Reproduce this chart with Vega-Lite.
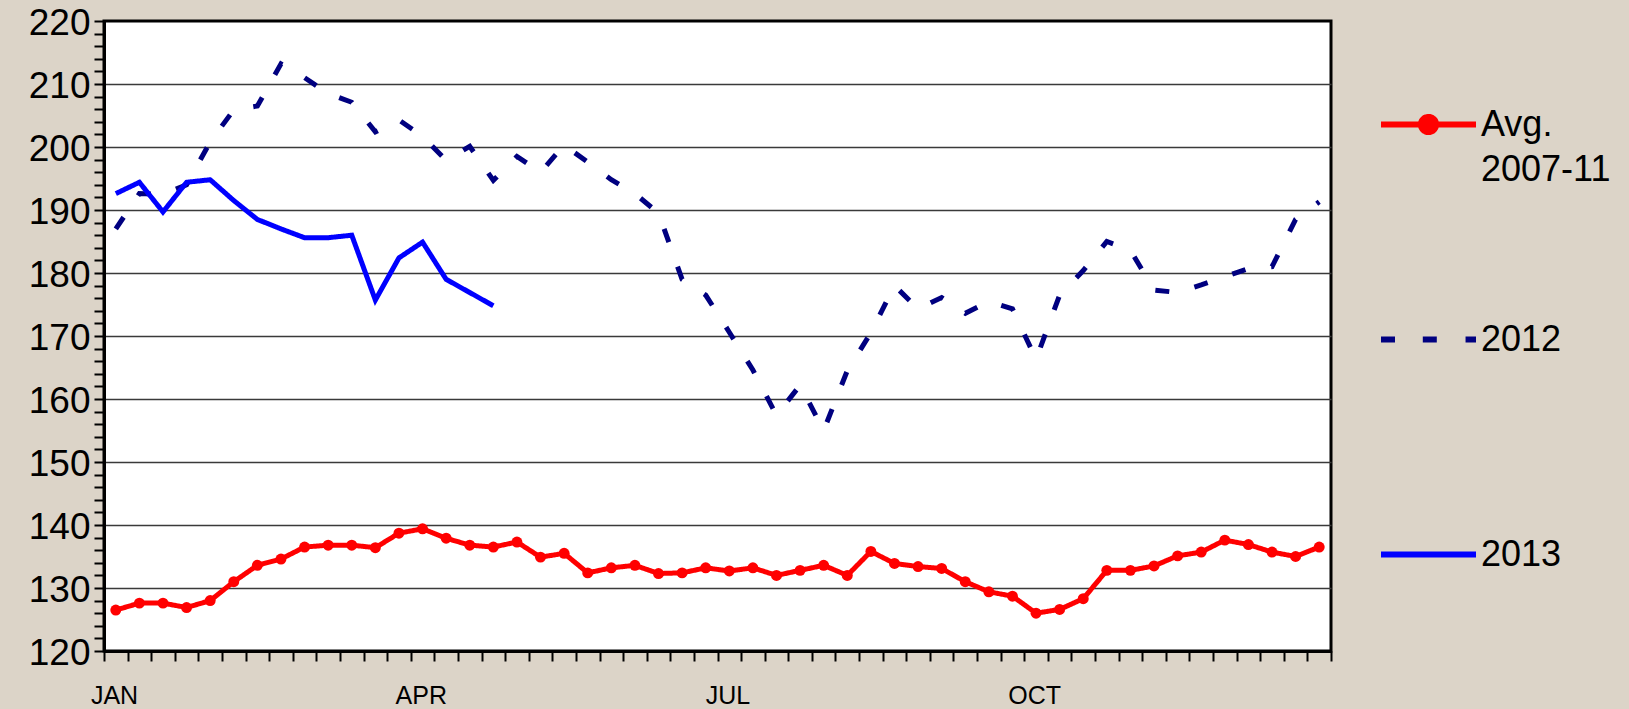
{
  "$schema": "https://vega.github.io/schema/vega-lite/v6.json",
  "width": 1227,
  "height": 630,
  "autosize": {"type": "none"},
  "padding": {"left": 104, "top": 21, "right": 298, "bottom": 58},
  "background": "#DCD4C8",
  "view": {"fill": "white", "stroke": "black", "strokeWidth": 3},
  "config": {"font": "Liberation Sans"},
  "data": {"values": [
    {"w":0,"s":"Avg. 2007-11","v":126.5},{"w":1,"s":"Avg. 2007-11","v":127.6},{"w":2,"s":"Avg. 2007-11","v":127.6},{"w":3,"s":"Avg. 2007-11","v":126.9},{"w":4,"s":"Avg. 2007-11","v":128.0},{"w":5,"s":"Avg. 2007-11","v":131.0},{"w":6,"s":"Avg. 2007-11","v":133.6},{"w":7,"s":"Avg. 2007-11","v":134.6},{"w":8,"s":"Avg. 2007-11","v":136.5},{"w":9,"s":"Avg. 2007-11","v":136.8},{"w":10,"s":"Avg. 2007-11","v":136.8},{"w":11,"s":"Avg. 2007-11","v":136.4},{"w":12,"s":"Avg. 2007-11","v":138.7},{"w":13,"s":"Avg. 2007-11","v":139.4},{"w":14,"s":"Avg. 2007-11","v":137.9},{"w":15,"s":"Avg. 2007-11","v":136.8},{"w":16,"s":"Avg. 2007-11","v":136.5},{"w":17,"s":"Avg. 2007-11","v":137.3},{"w":18,"s":"Avg. 2007-11","v":134.9},{"w":19,"s":"Avg. 2007-11","v":135.5},{"w":20,"s":"Avg. 2007-11","v":132.4},{"w":21,"s":"Avg. 2007-11","v":133.2},{"w":22,"s":"Avg. 2007-11","v":133.6},{"w":23,"s":"Avg. 2007-11","v":132.3},{"w":24,"s":"Avg. 2007-11","v":132.4},{"w":25,"s":"Avg. 2007-11","v":133.2},{"w":26,"s":"Avg. 2007-11","v":132.7},{"w":27,"s":"Avg. 2007-11","v":133.2},{"w":28,"s":"Avg. 2007-11","v":132.0},{"w":29,"s":"Avg. 2007-11","v":132.8},{"w":30,"s":"Avg. 2007-11","v":133.6},{"w":31,"s":"Avg. 2007-11","v":132.0},{"w":32,"s":"Avg. 2007-11","v":135.8},{"w":33,"s":"Avg. 2007-11","v":133.9},{"w":34,"s":"Avg. 2007-11","v":133.4},{"w":35,"s":"Avg. 2007-11","v":133.1},{"w":36,"s":"Avg. 2007-11","v":131.0},{"w":37,"s":"Avg. 2007-11","v":129.4},{"w":38,"s":"Avg. 2007-11","v":128.7},{"w":39,"s":"Avg. 2007-11","v":126.0},{"w":40,"s":"Avg. 2007-11","v":126.6},{"w":41,"s":"Avg. 2007-11","v":128.3},{"w":42,"s":"Avg. 2007-11","v":132.8},{"w":43,"s":"Avg. 2007-11","v":132.8},{"w":44,"s":"Avg. 2007-11","v":133.5},{"w":45,"s":"Avg. 2007-11","v":135.1},{"w":46,"s":"Avg. 2007-11","v":135.7},{"w":47,"s":"Avg. 2007-11","v":137.6},{"w":48,"s":"Avg. 2007-11","v":136.9},{"w":49,"s":"Avg. 2007-11","v":135.7},{"w":50,"s":"Avg. 2007-11","v":135.0},{"w":51,"s":"Avg. 2007-11","v":136.5},
    {"w":0,"s":"2012","v":187.0},{"w":1,"s":"2012","v":192.6},{"w":2,"s":"2012","v":192.5},{"w":3,"s":"2012","v":194.0},{"w":4,"s":"2012","v":200.8},{"w":5,"s":"2012","v":205.9},{"w":6,"s":"2012","v":206.5},{"w":7,"s":"2012","v":213.2},{"w":8,"s":"2012","v":211.0},{"w":9,"s":"2012","v":208.5},{"w":10,"s":"2012","v":207.1},{"w":11,"s":"2012","v":202.4},{"w":12,"s":"2012","v":204.3},{"w":13,"s":"2012","v":201.7},{"w":14,"s":"2012","v":197.9},{"w":15,"s":"2012","v":200.1},{"w":16,"s":"2012","v":194.7},{"w":17,"s":"2012","v":198.5},{"w":18,"s":"2012","v":196.0},{"w":19,"s":"2012","v":200.3},{"w":20,"s":"2012","v":197.6},{"w":21,"s":"2012","v":194.8},{"w":22,"s":"2012","v":192.6},{"w":23,"s":"2012","v":189.5},{"w":24,"s":"2012","v":179.0},{"w":25,"s":"2012","v":176.5},{"w":26,"s":"2012","v":170.6},{"w":27,"s":"2012","v":164.6},{"w":28,"s":"2012","v":157.4},{"w":29,"s":"2012","v":162.2},{"w":30,"s":"2012","v":155.0},{"w":31,"s":"2012","v":164.5},{"w":32,"s":"2012","v":170.5},{"w":33,"s":"2012","v":178.0},{"w":34,"s":"2012","v":174.3},{"w":35,"s":"2012","v":176.1},{"w":36,"s":"2012","v":173.6},{"w":37,"s":"2012","v":175.5},{"w":38,"s":"2012","v":174.3},{"w":39,"s":"2012","v":166.3},{"w":40,"s":"2012","v":176.5},{"w":41,"s":"2012","v":180.4},{"w":42,"s":"2012","v":185.0},{"w":43,"s":"2012","v":183.6},{"w":44,"s":"2012","v":177.3},{"w":45,"s":"2012","v":176.9},{"w":46,"s":"2012","v":178.1},{"w":47,"s":"2012","v":179.4},{"w":48,"s":"2012","v":180.7},{"w":49,"s":"2012","v":181.0},{"w":50,"s":"2012","v":188.5},{"w":51,"s":"2012","v":191.3},
    {"w":0,"s":"2013","v":192.6},{"w":1,"s":"2013","v":194.4},{"w":2,"s":"2013","v":189.7},{"w":3,"s":"2013","v":194.4},{"w":4,"s":"2013","v":194.8},{"w":5,"s":"2013","v":191.5},{"w":6,"s":"2013","v":188.5},{"w":7,"s":"2013","v":187.0},{"w":8,"s":"2013","v":185.6},{"w":9,"s":"2013","v":185.6},{"w":10,"s":"2013","v":186.0},{"w":11,"s":"2013","v":175.7},{"w":12,"s":"2013","v":182.4},{"w":13,"s":"2013","v":184.9},{"w":14,"s":"2013","v":179.0},{"w":15,"s":"2013","v":176.9},{"w":16,"s":"2013","v":174.8}
  ]},
  "encoding": {
    "x": {
      "field": "w", "type": "quantitative",
      "scale": {"domain": [-0.5, 51.5], "nice": false, "zero": false},
      "axis": {
        "title": null, "grid": false,
        "values": [-0.5,0.5,1.5,2.5,3.5,4.5,5.5,6.5,7.5,8.5,9.5,10.5,11.5,12.5,13.5,14.5,15.5,16.5,17.5,18.5,19.5,20.5,21.5,22.5,23.5,24.5,25.5,26.5,27.5,28.5,29.5,30.5,31.5,32.5,33.5,34.5,35.5,36.5,37.5,38.5,39.5,40.5,41.5,42.5,43.5,44.5,45.5,46.5,47.5,48.5,49.5,50.5,51.5],
        "labelExpr": "datum.value == -0.5 ? 'JAN' : datum.value == 12.5 ? 'APR' : datum.value == 25.5 ? 'JUL' : datum.value == 38.5 ? 'OCT' : ''",
        "domainColor": "black", "domainWidth": 3,
        "tickColor": "black", "tickWidth": 2, "tickSize": 10,
        "labelFontSize": 25, "labelColor": "black", "labelOffset": 10,
        "labelAlign": "center", "labelBaseline": "top", "labelPadding": 22,
        "labelOverlap": false, "labelFlush": false, "labelBound": false
      }
    },
    "y": {
      "field": "v", "type": "quantitative",
      "scale": {"domain": [120, 220], "nice": false, "zero": false},
      "axis": {
        "title": null, "grid": true,
        "values": [120,122,124,126,128,130,132,134,136,138,140,142,144,146,148,150,152,154,156,158,160,162,164,166,168,170,172,174,176,178,180,182,184,186,188,190,192,194,196,198,200,202,204,206,208,210,212,214,216,218,220],
        "labelExpr": "datum.value % 10 == 0 ? datum.label : ''",
        "gridColor": "#3a3a3a", "gridWidth": 1.3,
        "gridOpacity": {"condition": {"test": "datum.value % 10 == 0 && datum.value > 120 && datum.value < 220", "value": 1}, "value": 0},
        "domainColor": "black", "domainWidth": 3,
        "tickColor": "black", "tickWidth": 2, "tickSize": 10,
        "labelFontSize": 37, "labelColor": "black", "labelPadding": 4, "labelOffset": 2,
        "labelOverlap": false, "labelFlush": false, "labelBound": false
      }
    },
    "color": {
      "field": "s", "type": "nominal",
      "scale": {"domain": ["Avg. 2007-11", "2012", "2013"], "range": ["#FF0000", "#000080", "#0000FF"]},
      "legend": {
        "orient": "none", "legendX": 1274, "legendY": 53, "title": null, "padding": 0,
        "labelFontSize": 36, "labelColor": "black", "labelFont": "Liberation Sans",
        "symbolSize": 9025, "symbolStrokeWidth": 6, "labelOffset": 2, "rowPadding": 101,
        "gridAlign": "all",
        "labelLimit": 0,
        "labelExpr": "datum.label == 'Avg. 2007-11' ? ['Avg.', '2007-11'] : datum.label",
        "encode": {
          "symbols": {"update": {
            "shape": {"signal": "datum.value == 'Avg. 2007-11' ? 'M-1,0H1M0.16,0A0.16,0.16,0,1,1,-0.16,0A0.16,0.16,0,1,1,0.16,0Z' : datum.value == '2012' ? 'M-1,0H-0.7M-0.12,0H0.18M0.78,0H1' : 'M-1,0H1'"},
            "fill": {"signal": "datum.value == 'Avg. 2007-11' ? '#FF0000' : 'transparent'"},
            "stroke": {"signal": "datum.value == 'Avg. 2007-11' ? '#FF0000' : datum.value == '2012' ? '#000080' : '#0000FF'"},
            "strokeWidth": {"value": 6},
            "strokeDash": {"value": []},
            "opacity": {"value": 1}
          }},
          "labels": {"update": {"lineHeight": {"value": 45}}}
        }
      }
    }
  },
  "layer": [
    {
      "mark": {"type": "line", "strokeWidth": 5},
      "encoding": {
        "strokeDash": {
          "field": "s", "type": "nominal",
          "scale": {"domain": ["Avg. 2007-11", "2012", "2013"], "range": [[1, 0], [14, 26], [1, 0]]},
          "legend": null
        }
      }
    },
    {
      "transform": [{"filter": "datum.s == 'Avg. 2007-11'"}],
      "mark": {"type": "point", "filled": true, "size": 120, "opacity": 1}
    }
  ]
}
